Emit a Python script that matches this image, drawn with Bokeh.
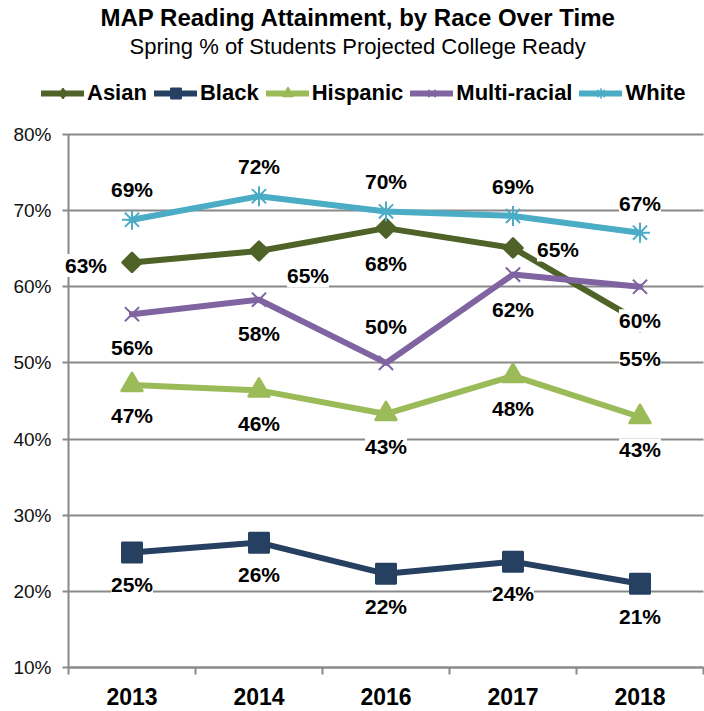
import numpy as np
from bokeh.plotting import figure
from bokeh.models import (ColumnDataSource, LabelSet, Legend, LegendItem, Title,
                          LinearAxis, Range1d, FixedTicker, PrintfTickFormatter)
from bokeh.core.properties import value
from bokeh.embed import file_html
from bokeh.resources import INLINE

# ---------------- data ----------------
years = ["2013", "2014", "2016", "2017", "2018"]
asian = [63.2, 64.7, 67.7, 65.1, 55.4]
black = [25.1, 26.4, 22.3, 23.9, 21.0]
hispanic = [47.1, 46.4, 43.3, 48.3, 42.9]
multi_racial = [56.4, 58.3, 50.0, 61.6, 60.0]
white = [68.8, 71.9, 69.9, 69.3, 67.1]
y_ticks = [10, 20, 30, 40, 50, 60, 70, 80]

# ---------------- styles / layout ----------------
FONT = "Liberation Sans"
GRID = "#898989"
W, H = 704, 711
AX_L, AX_R = 68, 703        # pixel of left axis / right end of category band
Y_TOP_PX, Y_BOT_PX = 134, 667   # pixel of top / bottom tick
FRAME_TOP = 58

# label offsets (screen px, +y up)
asian_dx = [-46, 49, 0, 45, 0]
asian_dy = [-3, -25, -35, -2, -37]
black_dy = [-32, -32, -33, -32, -33]
hispanic_dy = [-30, -33, -33, -33, -33]
multi_dy = [-33, -34, 36, -35, -34]
white_dy = [30, 30, 30, 29, 29]
zeros = [0, 0, 0, 0, 0]

# name, values, colour, marker, size, angle, legend marker, legend size, dx, dy
series = [
    ("Asian", asian, "#4F6228", "square", 14, np.pi / 4, "diamond", 11, asian_dx, asian_dy),
    ("Black", black, "#254061", "square", 20, 0, "square", 12, zeros, black_dy),
    ("Hispanic", hispanic, "#9BBB59", "triangle", 22, 0, "triangle", 10, zeros, hispanic_dy),
    ("Multi-racial", multi_racial, "#8064A2", "x", 20, 0, "x", 10, zeros, multi_dy),
    ("White", white, "#4BACC6", "asterisk", 20, 0, "asterisk", 10, zeros, white_dy),
]

n = len(years)
xpos = [i + 1 for i in range(n)]   # category slots on a linear scale

# ranges chosen so that the frame covers the whole canvas below the titles
px_x = (AX_R - AX_L) / n
x_start = 0.5 - AX_L / px_x
x_end = n + 0.5 + (W - AX_R) / px_x
y_lo, y_hi = y_ticks[0], y_ticks[-1]
px_y = (Y_BOT_PX - Y_TOP_PX) / (y_hi - y_lo)
y_end = y_hi + (Y_TOP_PX - FRAME_TOP) / px_y
y_start = y_lo - (H - Y_BOT_PX) / px_y

p = figure(width=W, height=H,
           x_range=Range1d(x_start, x_end), y_range=Range1d(y_start, y_end),
           output_backend="svg", toolbar_location=None,
           x_axis_location=None, title=None,
           min_border_left=0, min_border_right=0, min_border_top=FRAME_TOP,
           min_border_bottom=0)
p.outline_line_color = None
p.background_fill_color = "white"
p.border_fill_color = "white"

# y axis, pinned at the left edge of the category band
p.yaxis.fixed_location = 0.5
p.yaxis.bounds = (y_lo, y_hi)
p.yaxis.ticker = FixedTicker(ticks=y_ticks)
p.yaxis.formatter = PrintfTickFormatter(format="%d%%")
p.yaxis.axis_line_color = GRID
p.yaxis.axis_line_width = 2
p.yaxis.major_tick_line_color = GRID
p.yaxis.major_tick_line_width = 2
p.yaxis.major_tick_out = 6
p.yaxis.major_tick_in = 0
p.yaxis.minor_tick_line_color = None
p.yaxis.major_label_text_font = FONT
p.yaxis.major_label_text_font_size = "19px"
p.yaxis.major_label_text_color = "#111111"
p.yaxis.major_label_standoff = 11

# horizontal grid lines between the axis and the right end
p.ygrid.ticker = FixedTicker(ticks=y_ticks)
p.ygrid.grid_line_color = GRID
p.ygrid.grid_line_width = 2
p.xgrid.visible = False
if "cross_bounds" in p.ygrid[0].properties():
    p.ygrid.cross_bounds = (0.5, n + 0.5)
else:
    p.ygrid.visible = False
    p.segment(x0=[0.5] * len(y_ticks), x1=[n + 0.5] * len(y_ticks), y0=y_ticks, y1=y_ticks,
              line_color=GRID, line_width=2, level="underlay")

# x axis (labels at category centres, tick marks at category edges)
xax = LinearAxis(ticker=FixedTicker(ticks=xpos,
                                    minor_ticks=[i + 0.5 for i in range(n + 1)]),
                 major_label_overrides={xp: y for xp, y in zip(xpos, years)},
                 fixed_location=y_lo, bounds=(0.5, n + 0.5))
xax.axis_line_color = GRID
xax.axis_line_width = 2
xax.major_tick_out = 0
xax.major_tick_in = 0
xax.major_tick_line_color = None
xax.minor_tick_out = 7
xax.minor_tick_in = 0
xax.minor_tick_line_color = GRID
xax.minor_tick_line_width = 2
xax.major_label_text_font = FONT
xax.major_label_text_font_size = "23px"
xax.major_label_text_font_style = "bold"
xax.major_label_text_color = "black"
xax.major_label_standoff = 13
p.add_layout(xax, "below")

label_extra = {}
if "padding" in LabelSet.properties():
    label_extra["padding"] = 3

legend_items = []
for name, vals, color, marker, msize, ang, lmarker, lsize, dxs, dys in series:
    src = ColumnDataSource(dict(x=xpos, y=vals,
                                lab=[f"{round(v)}%" for v in vals],
                                dx=dxs, dy=dys))
    lr = p.line("x", "y", source=src, line_color=color, line_width=6,
                line_join="round", line_cap="round")
    # small marker (hidden under the big one) used for the legend swatch
    mr = p.scatter("x", "y", source=src, marker=lmarker, size=lsize,
                   fill_color=color, line_color=color, line_width=1.5)
    p.scatter("x", "y", source=src, marker=marker, size=msize, angle=ang,
              fill_color=color, line_color=color, line_width=2)
    legend_items.append(LegendItem(label=name, renderers=[lr, mr]))
    p.add_layout(LabelSet(x="x", y="y", text="lab", source=src,
                          x_offset="dx", y_offset="dy",
                          text_align="center", text_baseline="middle",
                          text_font=value(FONT), text_font_size="21px",
                          text_font_style="bold", text_color="black",
                          background_fill_color="white", **label_extra))

LEG_LEFT, LEG_BOTTOM = 41, 106
legend = Legend(items=legend_items, orientation="horizontal",
                location=(LEG_LEFT, H - LEG_BOTTOM), glyph_width=43, glyph_height=26,
                label_height=26, label_standoff=3, spacing=7, padding=0, margin=0,
                border_line_color=None, background_fill_alpha=0,
                label_text_font=FONT, label_text_font_style="bold",
                label_text_font_size="22px", label_text_color="black")
p.add_layout(legend)

sub = Title(text="Spring % of Students Projected College Ready", align="left",
            offset=129, text_font=FONT, text_font_size="22px",
            text_font_style="normal", text_color="black", standoff=0)
p.add_layout(sub, "above")
ttl = Title(text="MAP Reading Attainment, by Race Over Time", align="left",
            offset=100, text_font=FONT, text_font_size="24px",
            text_font_style="bold", text_color="black", standoff=2)
p.add_layout(ttl, "above")

open("out.html", "w").write(file_html(p, INLINE))
